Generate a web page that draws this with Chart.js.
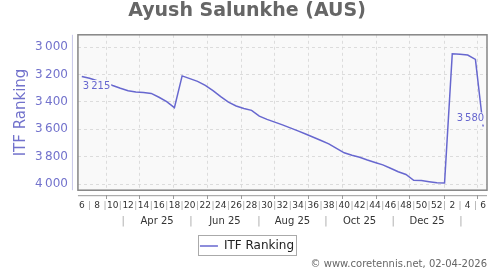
<!DOCTYPE html>
<html>
<head>
<meta charset="utf-8">
<script src="https://cdn.jsdelivr.net/npm/chart.js@4.4.1/dist/chart.umd.min.js"></script>
<style>
  html, body { margin: 0; padding: 0; background: #fff; }
</style>
</head>
<body>
<canvas id="rankChart" width="500" height="270"></canvas>
<script>
// week numbers, week 6 of 2025 to week 6 of 2026
const weekLabels = [6, 7, 8, 9, 10, 11, 12, 13, 14, 15, 16, 17, 18, 19, 20, 21, 22, 23, 24, 25,
  26, 27, 28, 29, 30, 31, 32, 33, 34, 35, 36, 37, 38, 39, 40, 41, 42, 43, 44, 45, 46, 47, 48,
  49, 50, 51, 52, 1, 2, 3, 4, 5, 6];

const rankings = [3215, 3228, 3245, 3258, 3280, 3300, 3318, 3327, 3331, 3338, 3366, 3398, 3442,
  3210, 3230, 3250, 3280, 3318, 3362, 3402, 3430, 3448, 3462, 3504, 3528, 3548, 3568, 3590,
  3612, 3635, 3658, 3682, 3707, 3740, 3772, 3790, 3805, 3825, 3843, 3860, 3885, 3910, 3930,
  3973, 3975, 3983, 3990, 3993, 3048, 3052, 3058, 3090, 3580];

const yTicks = [3000, 3200, 3400, 3600, 3800, 4000];

// month gridlines and two-month label bands, in week-index units
const monthGridWeeks = [3.25, 7.53, 11.94, 16.34, 20.75, 25.02, 29.43, 33.84, 38.12, 42.52, 46.93, 51.33];
const monthSepWeeks = [5.36, 14.14, 22.95, 31.63, 40.35, 49.13];
const monthLabels = ['Apr 25', 'Jun 25', 'Aug 25', 'Oct 25', 'Dec 25'];

const labelledPoints = [0, rankings.length - 1];

const lineColor = '#6767cf';
const plotBg = '#f9f9f9';
const SEP = '|';

const fmt = v => String(v).replace(/\B(?=(\d{3})+(?!\d))/g, '\u2009');

// separators + centred month labels
const monthTicks = [];
monthSepWeeks.forEach((w, i) => {
  monthTicks.push({ value: w, label: SEP });
  if (i < monthLabels.length) {
    monthTicks.push({ value: (w + monthSepWeeks[i + 1]) / 2, label: monthLabels[i] });
  }
});

const sepColor = c => (c.tick && c.tick.label === SEP ? '#a8a8a8' : '#333');

const frame = {
  id: 'frame',
  beforeDraw(chart) {
    const { ctx, chartArea: a } = chart;
    ctx.save();
    ctx.fillStyle = plotBg;
    ctx.fillRect(a.left, a.top, a.right - a.left, a.bottom - a.top);
    ctx.restore();
  },
  afterDraw(chart) {
    const { ctx, chartArea: a } = chart;
    ctx.save();
    ctx.strokeStyle = '#858585';
    ctx.lineWidth = 1.5;
    ctx.strokeRect(a.left, a.top, a.right - a.left, a.bottom - a.top);

    // detached axis lines
    ctx.lineWidth = 1;
    ctx.strokeStyle = '#c6c6e8';
    ctx.beginPath();
    ctx.moveTo(a.left - 5.5, a.top);
    ctx.lineTo(a.left - 5.5, a.bottom);
    ctx.stroke();
    ctx.strokeStyle = '#999';
    ctx.beginPath();
    ctx.moveTo(a.left, a.bottom + 5.5);
    ctx.lineTo(a.right, a.bottom + 5.5);
    ctx.stroke();

    // legend frame
    const hb = chart.legend.legendHitBoxes[0];
    if (hb) {
      const l = Math.round(hb.left) - 1.5;
      const t = Math.round(hb.top) - 4.5;
      ctx.strokeStyle = '#aaa';
      ctx.strokeRect(l, t, Math.round(hb.width) + 4, Math.round(hb.height) + 8);
    }

    // value labels on first and last point
    const meta = chart.getDatasetMeta(0);
    ctx.font = '10px "DejaVu Sans"';
    ctx.textBaseline = 'middle';
    labelledPoints.forEach(i => {
      const p = meta.data[i];
      const text = fmt(rankings[i]);
      const w = ctx.measureText(text).width;
      const last = i === rankings.length - 1;
      const x = last ? p.x + 1 - w : p.x + 1;
      const cy = last ? p.y - 8 : p.y + 9.5;
      ctx.fillStyle = plotBg;
      ctx.fillRect(x - 1, cy - 6, w + 2, 12);
      ctx.fillStyle = lineColor;
      ctx.fillText(text, x, cy);
    });
    ctx.restore();
  }
};

Chart.defaults.font.family = '"DejaVu Sans", sans-serif';

new Chart(document.getElementById('rankChart'), {
  type: 'line',
  data: {
    labels: weekLabels,
    datasets: [{
      label: 'ITF Ranking',
      data: rankings,
      borderColor: lineColor,
      backgroundColor: lineColor,
      borderWidth: 1.5,
      pointRadius: 0,
      tension: 0,
      xAxisID: 'x',
      yAxisID: 'y'
    }]
  },
  options: {
    responsive: false,
    animation: false,
    layout: { padding: { left: 7, right: 13, top: 0, bottom: 0 } },
    plugins: {
      title: {
        display: true,
        text: 'Ayush Salunkhe (AUS)',
        color: '#666',
        font: { size: 19, weight: 'bold' },
        padding: { top: 0, bottom: 12 }
      },
      subtitle: {
        display: true,
        text: '© www.coretennis.net, 02-04-2026',
        position: 'bottom',
        align: 'end',
        color: '#666',
        font: { size: 10 },
        padding: { top: -4, bottom: 0 }
      },
      legend: {
        position: 'bottom',
        labels: {
          usePointStyle: true,
          pointStyle: 'line',
          pointStyleWidth: 18,
          color: '#222',
          font: { size: 12 },
          padding: 6
        }
      },
      tooltip: { enabled: false }
    },
    scales: {
      y: {
        reverse: true,
        min: 2910,
        max: 4045,
        afterBuildTicks: s => { s.ticks = yTicks.map(v => ({ value: v })); },
        ticks: { color: '#7272cc', font: { size: 12 }, padding: 10, callback: v => fmt(v) },
        grid: { color: '#dcdcdc', drawTicks: false },
        border: { display: false, dash: [3, 3] },
        title: { display: true, text: 'ITF Ranking', color: '#7272cc', font: { size: 15 }, padding: { top: 5, bottom: -5 } }
      },
      xGrid: {
        type: 'linear',
        position: 'bottom',
        min: -0.5,
        max: weekLabels.length - 0.5,
        afterBuildTicks: s => { s.ticks = monthGridWeeks.map(v => ({ value: v })); },
        ticks: { display: false },
        grid: { color: '#dcdcdc', tickColor: '#999', tickLength: 9, tickBorderDash: [0, 5, 4, 30] },
        border: { display: false, dash: [3, 3] }
      },
      x: {
        type: 'category',
        position: 'bottom',
        offset: true,
        ticks: {
          autoSkip: false,
          maxRotation: 0,
          color: sepColor,
          font: { size: 9 },
          padding: 1,
          callback: (v, i) => (weekLabels[i] % 2 === 0 ? String(weekLabels[i]) : SEP)
        },
        grid: { drawOnChartArea: false, drawTicks: false },
        border: { display: false }
      },
      xMonth: {
        type: 'linear',
        position: 'bottom',
        min: -0.5,
        max: weekLabels.length - 0.5,
        afterBuildTicks: s => { s.ticks = monthTicks.map(t => ({ value: t.value })); },
        ticks: {
          autoSkip: false,
          maxRotation: 0,
          color: sepColor,
          font: { size: 10 },
          padding: 3,
          callback: (v, i) => monthTicks[i].label
        },
        grid: { drawOnChartArea: false, drawTicks: false },
        border: { display: false }
      },
      xPad: {
        type: 'linear',
        position: 'bottom',
        ticks: { display: false },
        grid: { drawOnChartArea: false, tickLength: 4, tickColor: 'rgba(0,0,0,0)' },
        border: { display: false }
      }
    }
  },
  plugins: [frame]
});
</script>
</body>
</html>
